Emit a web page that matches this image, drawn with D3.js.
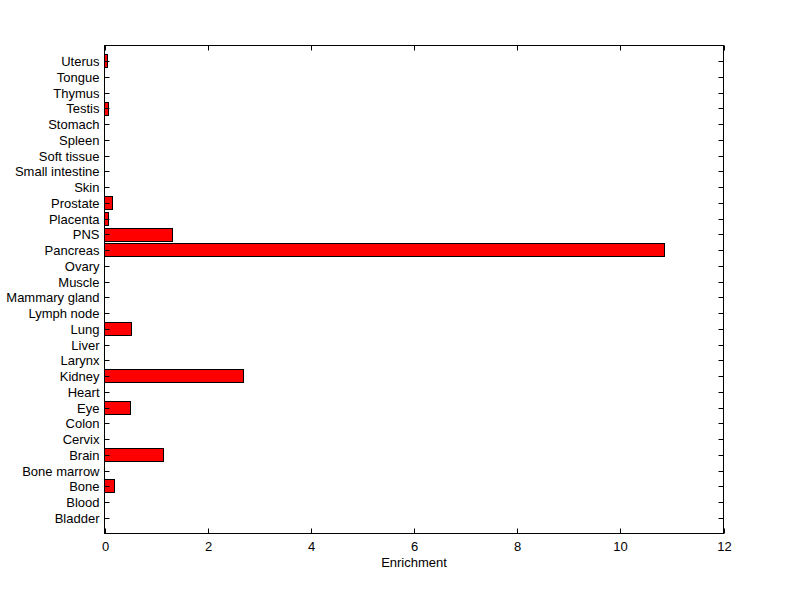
<!DOCTYPE html>
<html>
<head>
<meta charset="utf-8">
<script src="https://cdn.jsdelivr.net/npm/d3@7"></script>
<style>
  body { margin: 0; background: #fff; }
  svg text { font-family: "Liberation Sans", Arial, sans-serif; font-size: 13px; fill: #000; }
</style>
</head>
<body>
<div id="chart"></div>
<script>
// categories bottom to top
var tissues = ["Bladder","Blood","Bone","Bone marrow","Brain","Cervix","Colon","Eye","Heart","Kidney",
    "Larynx","Liver","Lung","Lymph node","Mammary gland","Muscle","Ovary","Pancreas","PNS","Placenta",
    "Prostate","Skin","Small intestine","Soft tissue","Spleen","Stomach","Testis","Thymus","Tongue","Uterus"];
var enrichment = [0, 0, 0.2, 0, 1.15, 0, 0, 0.51, 0, 2.7,
    0, 0, 0.53, 0, 0, 0, 0, 10.85, 1.32, 0.08,
    0.16, 0, 0, 0, 0, 0, 0.08, 0, 0, 0.06];
var xTicks = [0, 2, 4, 6, 8, 10, 12];

var W = 800, H = 599;
var margin = {top: 45, right: 77, bottom: 66, left: 104};
var width = W - margin.left - margin.right;
var height = H - margin.top - margin.bottom;

var svg = d3.select("#chart").append("svg")
    .attr("width", W).attr("height", H);
var g = svg.append("g")
    .attr("transform", "translate(" + (margin.left + 0.5) + "," + (margin.top + 0.5) + ")");

var x = d3.scaleLinear().domain([0, 12]).range([0, width]);
// positions 1..30 like matlab barh, axis 0..31
var y = d3.scaleLinear().domain([0, tissues.length + 1]).range([height, 0]);
var barH = 0.8 * (y(0) - y(1));

// bars
g.selectAll(".bar")
    .data(enrichment)
    .enter()
    .append("rect")
    .attr("class", "bar")
    .attr("x", x(0))
    .attr("y", function(d, i) { return Math.round(y(i + 1) - barH / 2); })
    .attr("width", function(d) { return Math.round(x(d) - x(0)); })
    .attr("height", Math.round(barH))
    .attr("fill", function(d) { return d > 0 ? "#ff0000" : "none"; })
    .attr("stroke", function(d) { return d > 0 ? "#000" : "none"; })
    .attr("stroke-width", 1);

// box
g.append("rect")
    .attr("x", 0).attr("y", 0)
    .attr("width", width).attr("height", height)
    .attr("fill", "none").attr("stroke", "#000").attr("stroke-width", 1);

var tickLen = 5;
// x ticks (bottom + top, inward)
var xAxis = d3.axisBottom(x).tickValues(xTicks).tickSize(-tickLen).tickPadding(8).tickFormat(d3.format("d"));
var xg = g.append("g").attr("transform", "translate(0," + height + ")").call(xAxis);
xg.select(".domain").remove();
var xTop = d3.axisTop(x).tickValues(xTicks).tickSize(-tickLen).tickFormat("");
var xtg = g.append("g").call(xTop);
xtg.select(".domain").remove();

// y ticks (left + right, inward)
var yIdx = d3.range(1, tissues.length + 1);
var yAxis = d3.axisLeft(y).tickValues(yIdx).tickSize(-tickLen).tickPadding(5)
    .tickFormat(function(d) { return tissues[d - 1]; });
var yg = g.append("g").call(yAxis);
yg.select(".domain").remove();
var yRight = d3.axisRight(y).tickValues(yIdx).tickSize(-tickLen).tickFormat("");
var yrg = g.append("g").attr("transform", "translate(" + width + ",0)").call(yRight);
yrg.select(".domain").remove();

g.selectAll(".tick").attr("transform", function() {
    var t = d3.select(this).attr("transform");
    return t.replace(/([\d.]+)/g, function(m) { return Math.round(+m); });
});
g.selectAll(".tick line").attr("stroke", "#000");
g.selectAll(".tick text").style("font-size", "13px").style("font-family", "'Liberation Sans', Arial, sans-serif");

// x label
g.append("text")
    .attr("x", width / 2)
    .attr("y", height + 33)
    .attr("text-anchor", "middle")
    .text("Enrichment");
</script>
</body>
</html>
